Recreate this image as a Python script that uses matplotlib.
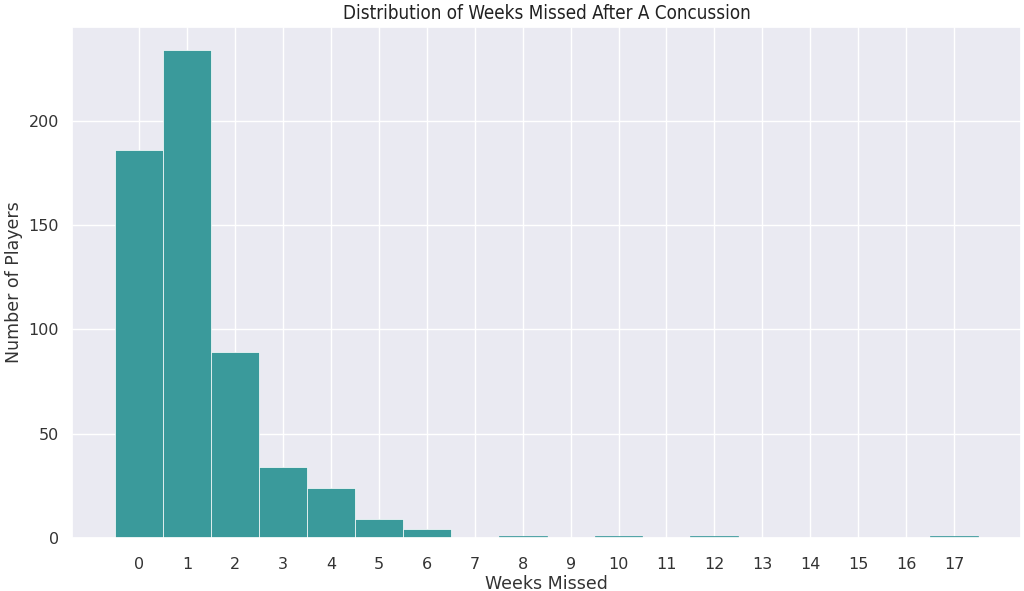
import numpy as np
import matplotlib
matplotlib.use("Agg")
import matplotlib.pyplot as plt
import seaborn as sns

# weeks missed after a concussion -> number of players
weeks = [0, 1, 2, 3, 4, 5, 6, 7, 8, 9, 10, 11, 12, 13, 14, 15, 16, 17]
players = [186, 234, 89, 34, 24, 9, 4, 0, 1, 0, 1, 0, 1, 0, 0, 0, 0, 1]

sns.set_theme(style="darkgrid")
plt.rcParams['font.family'] = ['DejaVu Sans']

fig = plt.figure(figsize=(10.24, 5.91), dpi=100)
ax = fig.add_axes([0.0703, 0.090, 0.927, 0.864])

bar_color = "#3a9a9b"
# very short bars keep a teal outline so they stay visible, like in the original
edges = [bar_color if p == 1 else "white" for p in players]
ax.bar(weeks, players, width=1.0, color=bar_color,
       edgecolor=edges, linewidth=0.5, zorder=2)

ax.set_xticks(weeks)
ax.set_xticklabels([str(w) for w in weeks])
ax.set_xlim(-1.4, 18.4)
ax.set_ylim(0, 245)
ax.set_yticks([0, 50, 100, 150, 200])
ax.tick_params(labelsize=11.5, colors="#333333")
ax.tick_params(axis="x", pad=8)

ax.set_title("Distribution of Weeks Missed After A Concussion",
             fontsize=13.5, fontstretch="condensed", color="#222222", pad=6)
ax.set_xlabel("Weeks Missed", fontsize=12.5, color="#333333", labelpad=2)
ax.set_ylabel("Number of Players", fontsize=12.5, color="#333333")

fig.savefig("out.png", dpi=100)
